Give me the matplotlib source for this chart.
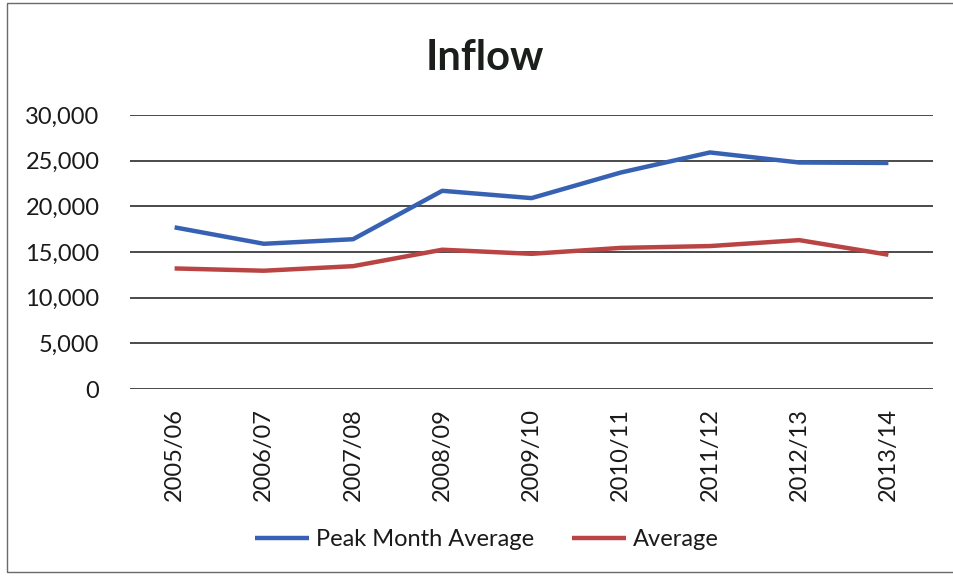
import matplotlib.pyplot as plt
import matplotlib.patches as patches
from matplotlib.ticker import FuncFormatter

years = ['2005/06', '2006/07', '2007/08', '2008/09', '2009/10',
         '2010/11', '2011/12', '2012/13', '2013/14']
peak_month_avg = [17700, 15900, 16400, 21700, 20900, 23700, 25900, 24800, 24750]
average = [13200, 12950, 13450, 15250, 14800, 15450, 15650, 16300, 14700]
y_ticks = [0, 5000, 10000, 15000, 20000, 25000, 30000]


def main():
    plt.rcParams['font.family'] = ['Lato', 'DejaVu Sans']

    fig = plt.figure(figsize=(9.54, 5.77), dpi=100)
    ax = fig.add_axes([130 / 954, 1 - 389 / 577, (933 - 130) / 954, (389 - 115) / 577])

    x = list(range(len(years)))
    ax.plot(x, peak_month_avg, color='#3762b3', lw=3.2, solid_capstyle='butt',
            label='Peak Month Average')
    ax.plot(x, average, color='#b94443', lw=3.2, solid_capstyle='butt',
            label='Average')

    ax.set_xlim(-0.5, len(years) - 0.5)
    ax.set_ylim(0, 30000)
    ax.set_yticks(y_ticks)
    ax.yaxis.set_major_formatter(FuncFormatter(lambda v, p: f"{int(v):,}"))
    ax.set_xticks(x)
    ax.set_xticklabels(years, rotation=90)
    ax.grid(axis='y', color='#3c3c3c', lw=1.3)
    ax.set_axisbelow(True)
    for s in ax.spines.values():
        s.set_visible(False)
    ax.tick_params(axis='y', length=0, pad=22, labelsize=17, labelcolor='#1a1a1a')
    ax.tick_params(axis='x', length=0, pad=14, labelsize=17, labelcolor='#1a1a1a')

    fig.text(485 / 954, 1 - 70 / 577, 'Inflow', ha='center', va='baseline',
             fontsize=30, fontweight='bold', color='#1a1f1c')

    fig.legend(loc='center', bbox_to_anchor=(487 / 954, 1 - 540 / 577),
               ncol=2, frameon=False, fontsize=17, handlelength=2.3,
               handletextpad=0.3, columnspacing=1.6, labelcolor='#1a1a1a')

    border = patches.Rectangle((7 / 954, 1 - 572 / 577), 1.0, (572 - 3) / 577,
                               transform=fig.transFigure, fill=False,
                               edgecolor='#6a6a6a', lw=1.0)
    fig.patches.append(border)

    fig.savefig('out.png', dpi=100)


if __name__ == "__main__":
    main()
